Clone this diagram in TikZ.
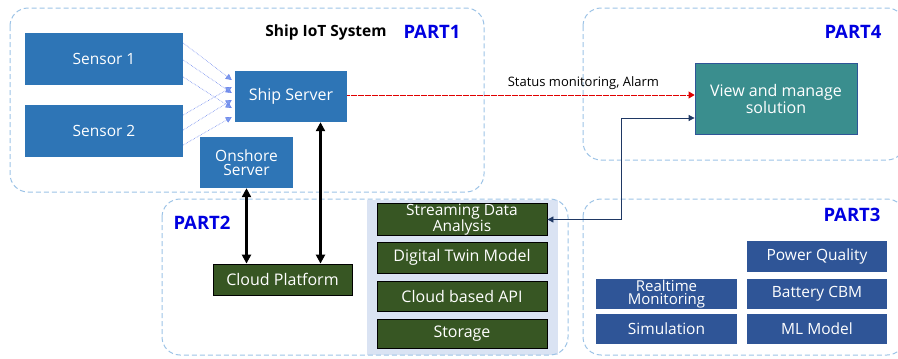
\documentclass[tikz,border=0pt]{standalone}
\usepackage{fontspec}
\setmainfont{Open Sans}
\usetikzlibrary{arrows.meta,calc}
\definecolor{sblue}{HTML}{2E75B6}
\definecolor{dblue}{HTML}{2F5597}
\definecolor{teal2}{HTML}{3A8E8E}
\definecolor{dgreen}{HTML}{375623}
\definecolor{lightshade}{HTML}{DAE3F3}
\definecolor{cont}{HTML}{9DC3E6}
\definecolor{partblue}{HTML}{0000E0}
\definecolor{navy}{HTML}{1F3864}
\definecolor{alarmred}{HTML}{E00000}
\tikzset{
  container/.style={draw=cont, dashed, dash pattern=on 5pt off 3pt, line width=1pt, rounded corners=18pt},
  bx/.style={inner sep=0pt, align=center, text=white, font=\fontsize{15.5}{14}\selectfont},
  bluebox/.style={bx, fill=sblue},
  greenbox/.style={bx, fill=dgreen, draw=black, line width=0.8pt, minimum width=170pt, font=\fontsize{16}{14}\selectfont},
  p3box/.style={bx, fill=dblue, minimum height=30pt},
  partlabel/.style={text=partblue, font=\fontsize{18.5}{18}\selectfont\bfseries},
  sensarrow/.style={draw=cont!70!blue, densely dotted, line width=0.6pt, -{Triangle[width=6pt,length=6pt,fill=cont!80!blue]}},
  bigarrow/.style={line width=2.6pt, {Triangle[width=9pt,length=9pt]}-{Triangle[width=9pt,length=9pt]}},
}
\begin{document}
\begin{tikzpicture}[x=1pt,y=-1pt]
\useasboundingbox (0,0) rectangle (898,359);
% containers
\draw[container] (10,8) rectangle (484,192);
\draw[container] (583,8) rectangle (905,160);
\fill[lightshade] (367,200) rectangle (558,355);
\draw[container] (162,199) rectangle (568,355);
\draw[container] (583,199) rectangle (905,355);

% labels
\node[font=\fontsize{15.5}{15}\selectfont\bfseries] (title) at (326,32) {Ship IoT System};
\node[partlabel] (p1) at (432,32) {PART1};
\node[partlabel] (p4) at (853,32) {PART4};
\node[partlabel] (p2) at (202,223) {PART2};
\node[partlabel] (p3) at (852,215) {PART3};

% PART1 nodes
\node[bluebox, minimum width=158pt, minimum height=52pt] (s1) at (104,59) {Sensor 1};
\node[bluebox, minimum width=158pt, minimum height=52pt] (s2) at (104,131) {Sensor 2};
\node[bluebox, minimum width=112pt, minimum height=51pt, font=\fontsize{16}{14}\selectfont] (ship) at (291,96.5) {Ship Server};
\node[bluebox, minimum width=93pt, minimum height=51pt] (onshore) at (246.5,162.5) {Onshore\\Server};

% PART4
\node[bx, fill=teal2, draw=dblue, line width=0.8pt, minimum width=162pt, minimum height=71pt, font=\fontsize{16}{15}\selectfont] (view) at (776,98.5) {View and manage\\solution};

% PART2
\node[greenbox, minimum width=139pt, minimum height=31pt] (cloud) at (282.5,279.5) {Cloud Platform};
\node[greenbox, minimum height=31pt, font=\fontsize{15.5}{13.5}\selectfont] (stream) at (462,219.5) {Streaming Data\\Analysis};
\node[greenbox, minimum height=31pt] (twin) at (462,257.5) {Digital Twin Model};
\node[greenbox, minimum height=30pt] (api) at (462,296) {Cloud based API};
\node[greenbox, minimum height=29pt] (storage) at (462,333.5) {Storage};

% PART3
\node[p3box, minimum width=140pt, minimum height=31pt] (power) at (817,256.5) {Power Quality};
\node[p3box, minimum width=140pt] (battery) at (817,294) {Battery CBM};
\node[p3box, minimum width=140pt] (ml) at (817,329) {ML Model};
\node[p3box, minimum width=141pt, font=\fontsize{15}{13.5}\selectfont] (realtime) at (666.5,294) {Realtime\\Monitoring};
\node[p3box, minimum width=141pt] (sim) at (666.5,329) {Simulation};

% sensor arrows
\draw[sensarrow] ([yshift=16]s1.east) -- ([xshift=-3,yshift=16.5]ship.west);
\draw[sensarrow] ([yshift=-1]s1.east) -- ([xshift=-3,yshift=3.5]ship.west);
\draw[sensarrow] ([yshift=-18]s1.east) -- ([xshift=-3,yshift=-11.5]ship.west);
\draw[sensarrow] ([yshift=16]s2.east) -- ([xshift=-3,yshift=9.5]ship.west);
\draw[sensarrow] ([yshift=1]s2.east) -- ([xshift=-3,yshift=-3.5]ship.west);
\draw[sensarrow] ([yshift=-14]s2.east) -- ([xshift=-3,yshift=-20.5]ship.west);

% red status arrow
\draw[draw=alarmred, dash pattern=on 3pt off 0.5pt, line width=1pt, -{Triangle[width=7pt,length=6pt,fill=alarmred]}]
  ([yshift=1.5]ship.east) -- node[above=2pt, text=black, font=\fontsize{13}{13}\selectfont, pos=0.68] {Status monitoring, Alarm} ([yshift=1.5]view.west |- ship.east);

% navy connector
\coordinate (bend) at (621,118);
\draw[draw=navy, line width=0.8pt, {Triangle[width=6pt,length=6pt]}-{Triangle[width=6pt,length=6pt]}]
  (stream.east) -| (bend) -- ([yshift=-19.5]view.west);

% black big arrows
\draw[bigarrow] (onshore.south) -- (onshore.south |- cloud.north);
\draw[bigarrow] ([xshift=29.5]ship.south) -- ([xshift=29.5]ship.south |- cloud.north);
\end{tikzpicture}
\end{document}
